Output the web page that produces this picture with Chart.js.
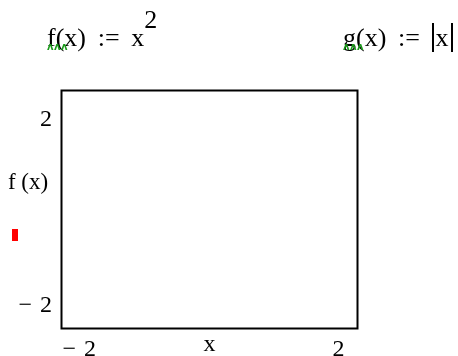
<!DOCTYPE html>
<html>
<head>
<meta charset="utf-8">
<script src="https://cdn.jsdelivr.net/npm/chart.js@4/dist/chart.umd.min.js"></script>
<style>
    html, body { margin: 0; padding: 0; background: #fff; }
    #wrap { position: relative; width: 458px; height: 356px; overflow: hidden; }
    #plot { position: absolute; left: 0; top: 0; }
    .defn {
        position: absolute;
        font-family: "Liberation Serif", "Times New Roman", serif;
        font-size: 26px;
        color: #000;
        white-space: nowrap;
        line-height: 1;
    }
    .warn { position: relative; }
    .warn::after {
        content: "\028C\028C\028C";
        position: absolute;
        left: 0;
        top: 19px;
        font-family: "DejaVu Sans", sans-serif;
        font-size: 10px;
        line-height: 10px;
        font-weight: bold;
        letter-spacing: 0.5px;
        color: #1a9a1a;
    }
    .op { margin: 0 0.45em; }
    .sup { position: relative; top: -0.7em; }
    .abs { border-left: 2px solid #000; border-right: 2px solid #000; padding: 0 2px; }
</style>
</head>
<body>
<div id="wrap">
    <canvas id="plot" width="458" height="356"></canvas>
    <div class="defn" style="left:47px; top:25px;"><span class="warn">f</span>(x)<span class="op">:=</span>x<span class="sup">2</span></div>
    <div class="defn" style="left:343px; top:25px;"><span class="warn">g</span>(x)<span class="op">:=</span><span class="abs">x</span></div>
</div>
<script>
// plot data: x has no range defined in the worksheet, so nothing is traced
const traceLabel = 'f (x)';
const traceX = [];
const traceY = [];
const xTickValues = [-2, 2];
const yTickValues = [-2, 2];

const serif = { family: '"Liberation Serif", "Times New Roman", serif', size: 24 };

function mathLabel(v) {
    return v < 0 ? '\u2212 \u200A' + Math.abs(v) : String(v);
}

// box around the plot area
const frame = {
    id: 'frame',
    afterDraw(chart) {
        const a = chart.chartArea;
        const ctx = chart.ctx;
        ctx.save();
        ctx.strokeStyle = '#000';
        ctx.lineWidth = 2;
        ctx.strokeRect(a.left + 0.5, a.top + 0.5, a.right - a.left - 1, a.bottom - a.top - 1);
        ctx.restore();
    }
};

// Mathcad style trace name and line sample left of the y axis
const traceKey = {
    id: 'traceKey',
    afterDraw(chart) {
        const ds = chart.data.datasets[0];
        const ctx = chart.ctx;
        ctx.save();
        ctx.font = '23px ' + serif.family;
        ctx.fillStyle = '#000';
        ctx.textAlign = 'center';
        ctx.textBaseline = 'middle';
        ctx.fillText(ds.label, 28, 183);
        ctx.fillStyle = ds.borderColor;
        ctx.fillRect(12, 229, 6, 12);
        ctx.restore();
    }
};

const ctx = document.getElementById('plot');
new Chart(ctx, {
    type: 'line',
    data: {
        datasets: [{
            label: traceLabel,
            data: traceX.map((x, i) => ({ x: x, y: traceY[i] })),
            borderColor: '#ff0000',
            borderWidth: 2,
            pointRadius: 0,
            fill: false
        }]
    },
    options: {
        responsive: false,
        animation: false,
        layout: { padding: { top: 90, right: 100, bottom: 0, left: 0 } },
        plugins: {
            legend: { display: false },
            tooltip: { enabled: false }
        },
        scales: {
            x: {
                type: 'linear',
                min: -2.28,
                max: 2.3,
                grid: { display: false, drawTicks: false },
                border: { display: false },
                afterBuildTicks: s => { s.ticks = xTickValues.map(v => ({ value: v })); },
                afterFit: s => { s.height = 27; },
                ticks: {
                    font: serif,
                    color: '#000',
                    padding: 6,
                    maxRotation: 0,
                    autoSkip: false,
                    callback: v => mathLabel(v)
                },
                title: {
                    display: true,
                    text: 'x',
                    font: serif,
                    color: '#000',
                    padding: { top: 0, bottom: -3 }
                }
            },
            y: {
                type: 'linear',
                min: -2.5,
                max: 2.65,
                grid: { display: false, drawTicks: false },
                border: { display: false },
                afterBuildTicks: s => { s.ticks = yTickValues.map(v => ({ value: v })); },
                afterFit: s => { s.width = 61; },
                ticks: {
                    font: serif,
                    color: '#000',
                    padding: 9,
                    autoSkip: false,
                    callback: v => mathLabel(v)
                }
            }
        }
    },
    plugins: [frame, traceKey]
});
</script>
</body>
</html>
